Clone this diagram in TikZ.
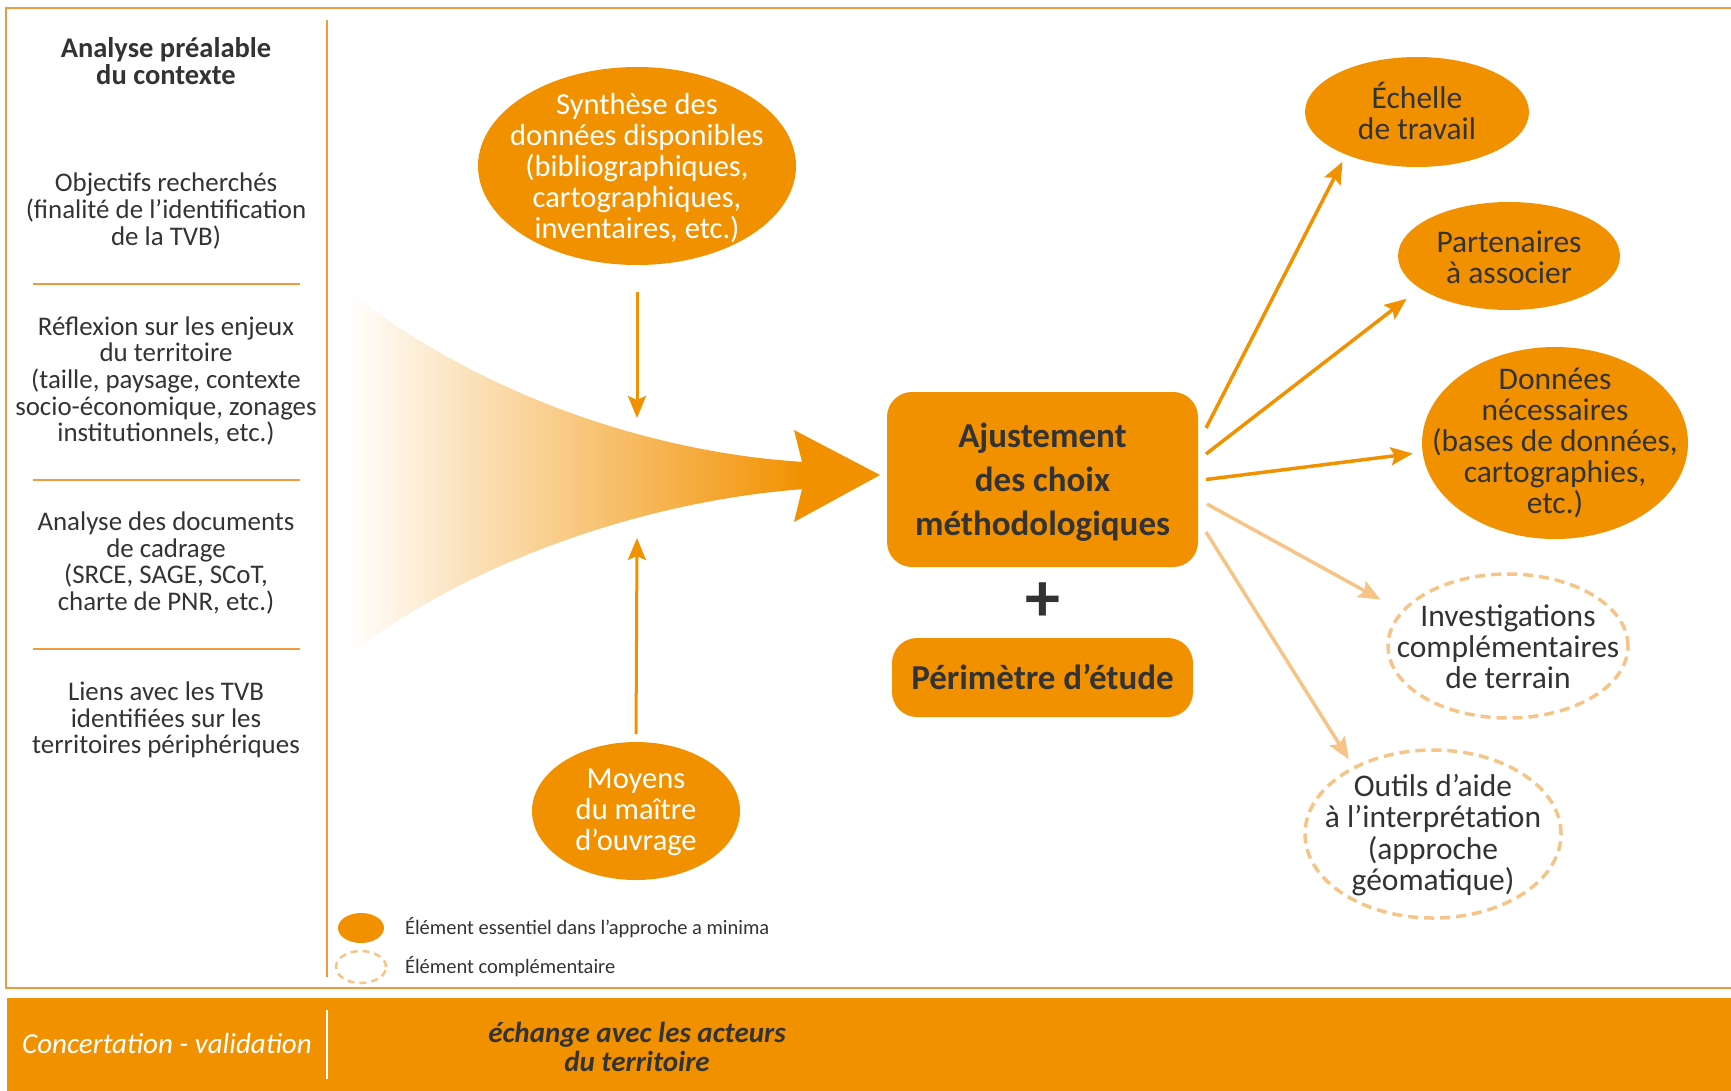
\documentclass[tikz,border=0pt]{standalone}
\usepackage{fontspec}
\setmainfont{Carlito}
\usetikzlibrary{shapes.geometric,arrows.meta,calc}
\definecolor{orng}{HTML}{F29100}
\definecolor{lorng}{HTML}{F7C488}
\definecolor{sepc}{HTML}{F09A3E}
\definecolor{ink}{HTML}{333333}
\begin{document}
\begin{tikzpicture}[x=1pt,y=-1pt,
  every node/.style={inner sep=0pt, outer sep=0pt},
  coltext/.style={align=center, text=ink, font=\fontsize{26.9}{26.7}\selectfont},
  essential/.style={ellipse, fill=orng, draw=none},
  extra/.style={ellipse, draw=lorng, line width=3.5pt, dash pattern=on 10pt off 6pt},
  bubbletext/.style={align=center, text=ink, font=\fontsize{31.5}{31.2}\selectfont},
  bubblewhite/.style={align=center, text=white, font=\fontsize{30.5}{31}\selectfont},
  boxed/.style={rounded corners=25pt, fill=orng},
  boxtext/.style={align=center, text=ink, font=\fontsize{35}{44}\selectfont\bfseries},
  arr/.style={draw=orng, line width=3.5pt, -{Stealth[length=22pt,width=18pt,inset=4pt]}},
  larr/.style={arr, draw=lorng},
  varr/.style={draw=orng, line width=3pt, -{Stealth[length=22pt,width=18pt,inset=4pt]}},
  sepline/.style={draw=sepc, line width=2.5pt},
]
\useasboundingbox (0,0) rectangle (1731,1090);

% outer frame (open on the right) and footer band
\draw[draw=sepc, line width=2.5pt] (1745,8) -- (6,8) -- (6,988) -- (1745,988);
\fill[orng] (7,998) rectangle (1745,1100);
\draw[draw=sepc, line width=2pt] (327,20) -- (327,977);
\draw[draw=white, line width=2pt] (327,1010) -- (327,1079);

% left column
\node[coltext, font=\fontsize{28.5}{27.5}\selectfont\bfseries] (ctx) at (166,61) {Analyse préalable\\du contexte};
\node[coltext] (obj) at (166,211) {Objectifs recherchés\\(finalité de l’identification\\de la TVB)};
\draw[sepline] (33,284) -- (300,284);
\node[coltext] (enj) at (166,381) {Réflexion sur les enjeux\\du territoire\\(taille, paysage, contexte\\socio-économique, zonages\\institutionnels, etc.)};
\draw[sepline] (33,480) -- (300,480);
\node[coltext] (doc) at (166,563) {Analyse des documents\\de cadrage\\(SRCE, SAGE, SCoT,\\charte de PNR, etc.)};
\draw[sepline] (33,649) -- (300,649);
\node[coltext] (lie) at (166,720) {Liens avec les TVB\\identifiées sur les\\territoires périphériques};

% converging flow towards the central box
\shade[left color=white, right color=orng]
  (348,291) .. controls (500,410) and (680,455) .. (805,462)
  -- (805,489) .. controls (650,500) and (470,560) .. (346,657) -- cycle;
\fill[orng] (794,430) -- (880,475) -- (794,522) -- (802,489) -- (802,462) -- cycle;

% upper and lower inputs
\node[essential, minimum width=318pt, minimum height=198pt] (syn) at (637,166) {};
\node[bubblewhite] (synt) at (637,168) {Synthèse des\\données disponibles\\(bibliographiques,\\cartographiques,\\inventaires, etc.)};
\coordinate (synin) at (637,418);
\draw[varr, shorten <=27pt] (syn.south) -- (synin);

\node[essential, minimum width=208pt, minimum height=138pt] (moy) at (636,811) {};
\node[bubblewhite] (moyt) at (636,812) {Moyens\\du maître\\d’ouvrage};
\coordinate (moyin) at (637,538);
\draw[varr, shorten <=8pt] (moy.north) -- (moyin);

% central boxes
\node[boxed, minimum width=311pt, minimum height=175pt] (aj) at (1042.5,479.5) {};
\node[boxtext] (ajt) at (1042.5,482) {Ajustement\\des choix\\méthodologiques};
\node[text=ink, font=\fontsize{70}{70}\selectfont\bfseries] (plus) at (1043,602) {+};
\node[boxed, minimum width=301pt, minimum height=79pt] (per) at (1042.5,677.5) {};
\node[boxtext] (pert) at (1042.5,677) {Périmètre d’étude};

% outputs
\node[essential, minimum width=224pt, minimum height=110pt] (ech) at (1417,112) {};
\node[bubbletext] at (1417,111) {Échelle\\de travail};
\node[essential, minimum width=222pt, minimum height=108pt] (par) at (1509,256) {};
\node[bubbletext] at (1509,257) {Partenaires\\à associer};
\node[essential, minimum width=266pt, minimum height=192pt] (don) at (1555,443) {};
\node[bubbletext] at (1555,443) {Données\\nécessaires\\(bases de données,\\cartographies,\\etc.)};
\node[extra, minimum width=240pt, minimum height=144pt] (inv) at (1508,646) {};
\node[bubbletext] at (1508,647) {Investigations\\complémentaires\\de terrain};
\node[extra, minimum width=256pt, minimum height=168pt] (out) at (1433,834) {};
\node[bubbletext] at (1433,835) {Outils d’aide\\à l’interprétation\\(approche\\géomatique)};

\draw[arr, shorten >=8pt] ([shift={(8,-51.5)}]aj.east) -- (ech.211);
\draw[arr, shorten >=17pt] ([shift={(8,-25.5)}]aj.east) -- (par.200);
\draw[arr, shorten >=10pt] ([shift={(8,0)}]aj.east) -- (don.184);
\draw[larr, shorten >=25pt] ([shift={(9,24.5)}]aj.east) -- (inv.162);
\draw[larr, shorten >=10pt] ([shift={(8,52.5)}]aj.east) -- (out.140);

% legend
\node[essential, minimum width=46pt, minimum height=30pt] (lg1) at (361,928) {};
\node[anchor=west, text=ink, font=\fontsize{20.5}{22}\selectfont] (lg1t) at (405,928) {Élément essentiel dans l’approche a minima};
\node[extra, line width=2.5pt, dash pattern=on 7pt off 5pt, minimum width=50pt, minimum height=32pt] (lg2) at (361,967) {};
\node[anchor=west, text=ink, font=\fontsize{20.5}{22}\selectfont] (lg2t) at (405,967) {Élément complémentaire};

% footer texts
\node[text=white, font=\fontsize{29}{30}\selectfont\itshape] (conc) at (167,1044) {Concertation - validation};
\node[align=center, text=ink, font=\fontsize{29}{29}\selectfont\bfseries\itshape] (ech2) at (637,1047) {échange avec les acteurs\\du territoire};
\end{tikzpicture}
\end{document}
